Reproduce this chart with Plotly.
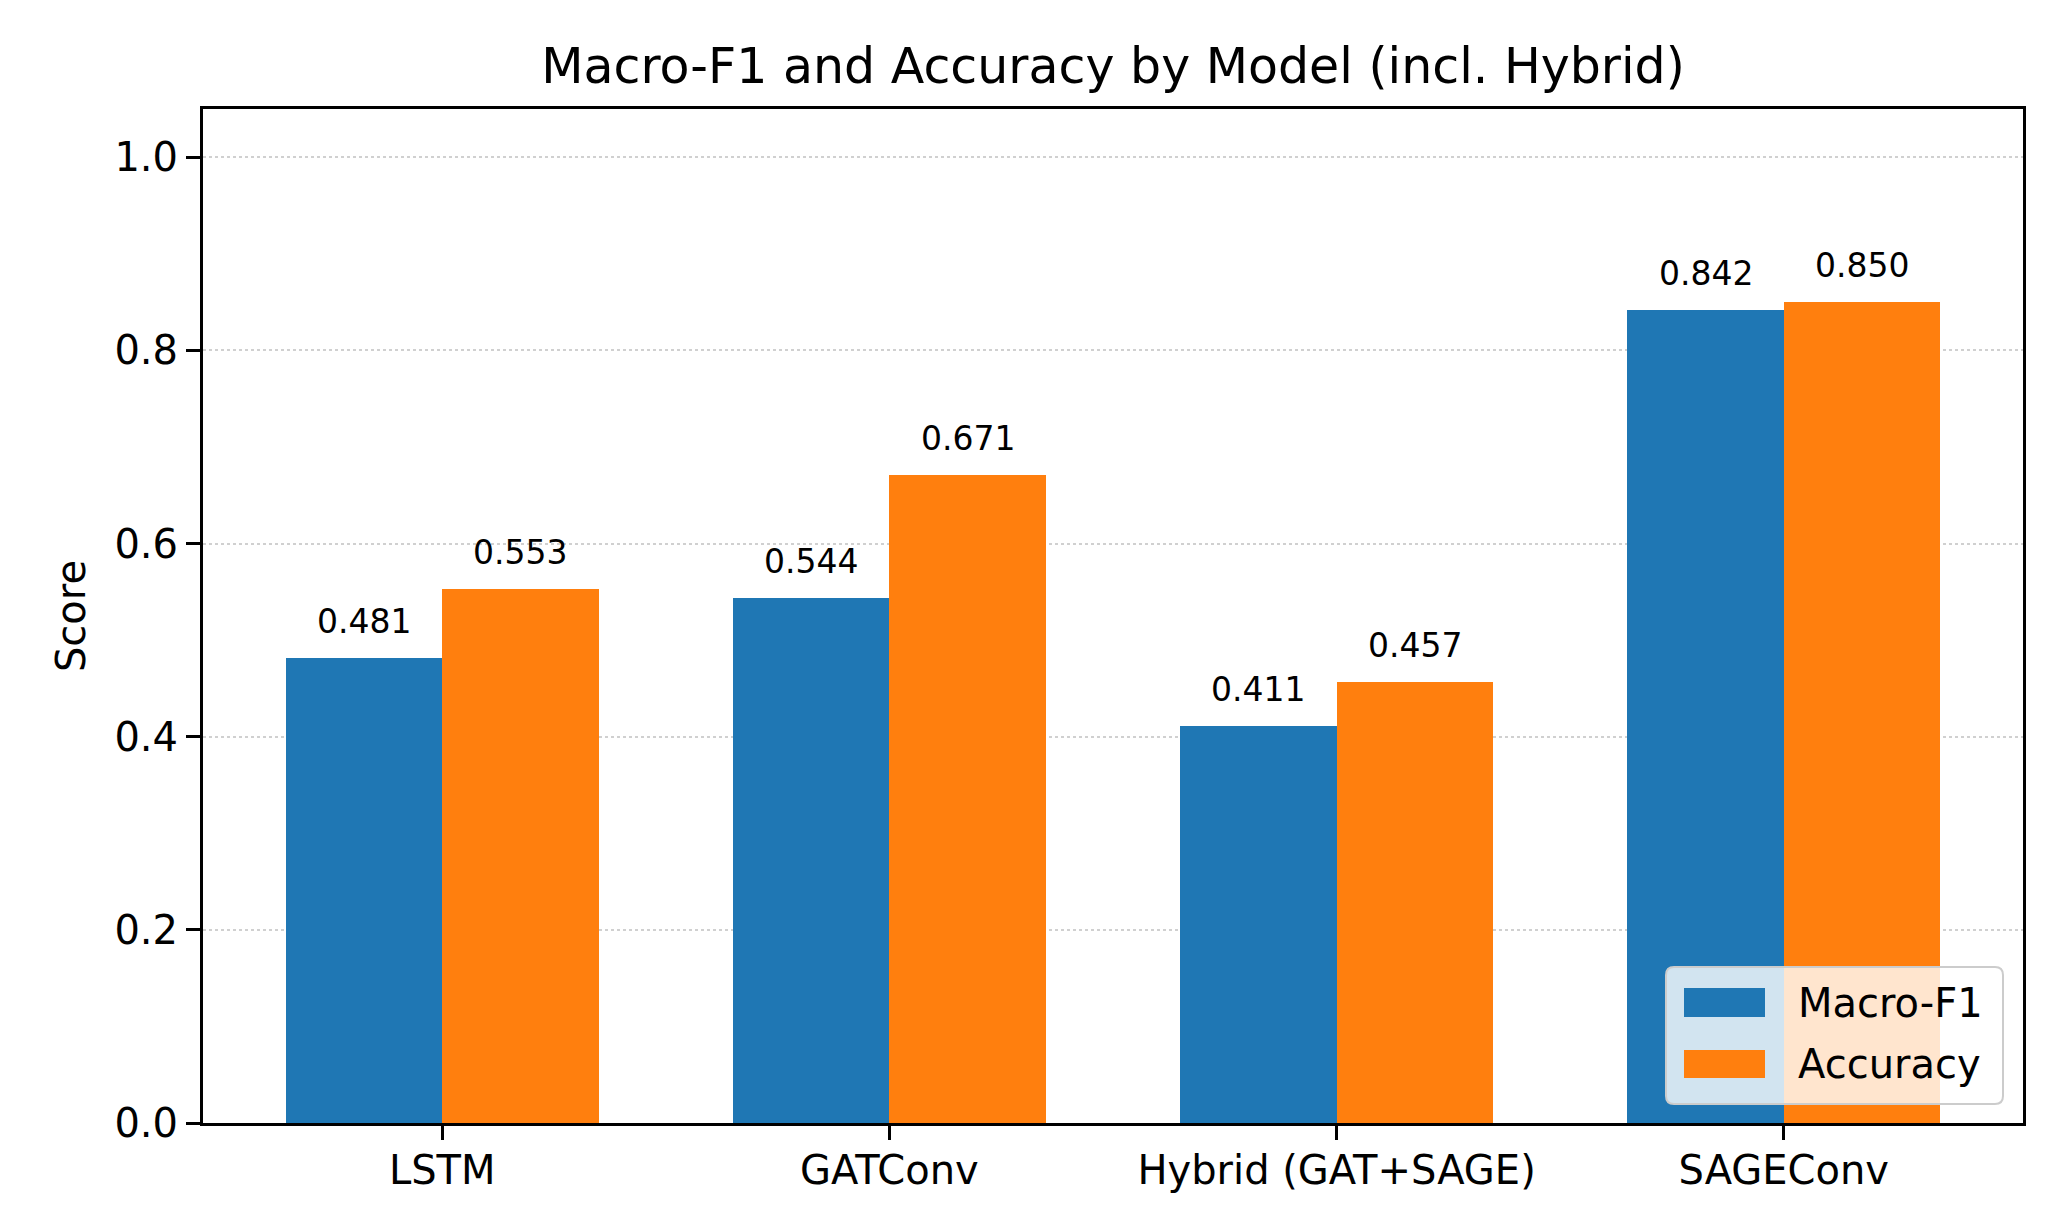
import plotly.graph_objects as go

models = ["LSTM", "GATConv", "Hybrid (GAT+SAGE)", "SAGEConv"]
macro_f1 = [0.481, 0.544, 0.411, 0.842]
accuracy = [0.553, 0.671, 0.457, 0.850]
series_names = ["Macro-F1", "Accuracy"]
y_ticks = [0.0, 0.2, 0.4, 0.6, 0.8, 1.0]
y_tick_labels = ["0.0", "0.2", "0.4", "0.6", "0.8", "1.0"]

W, H = 2060, 1222
ML, MR, MT, MB = 203, 37, 109, 99
PW, PH = W - ML - MR, H - MT - MB
BW = 0.35
FONT = "DejaVu Sans"
BLUE = "#1f77b4"
ORANGE = "#ff7f0e"
colors = [BLUE, ORANGE]

idx = list(range(len(models)))


def px_x(px):
    return (px - ML) / PW


def px_y(py):
    return (H - MB - py) / PH


fig = go.Figure()
fig.add_trace(go.Bar(x=idx, y=macro_f1, name=series_names[0], width=BW, offset=-BW,
                     marker=dict(color=BLUE, line=dict(width=0))))
fig.add_trace(go.Bar(x=idx, y=accuracy, name=series_names[1], width=BW, offset=0,
                     marker=dict(color=ORANGE, line=dict(width=0))))

annotations = []
for vals, off in ((macro_f1, -BW / 2), (accuracy, BW / 2)):
    for i, v in zip(idx, vals):
        annotations.append(dict(x=i + off, y=v, xref="x", yref="y", text=f"{v:.3f}",
                                showarrow=False, yanchor="bottom", xanchor="center",
                                yshift=15, font=dict(family=FONT, size=33, color="black")))

# legend (lower right), drawn as shapes + text
shapes = []
lx0, lx1, ly0, ly1, r = 1666, 2003, 967, 1104, 8
path = (f"M {lx0 + r},{ly0} L {lx1 - r},{ly0} Q {lx1},{ly0} {lx1},{ly0 + r} "
        f"L {lx1},{ly1 - r} Q {lx1},{ly1} {lx1 - r},{ly1} L {lx0 + r},{ly1} "
        f"Q {lx0},{ly1} {lx0},{ly1 - r} L {lx0},{ly0 + r} Q {lx0},{ly0} {lx0 + r},{ly0} Z")


def conv_path(p):
    out = []
    for tok in p.split(" "):
        if "," in tok:
            a, b = tok.split(",")
            out.append(f"{px_x(float(a)):.5f},{px_y(float(b)):.5f}")
        else:
            out.append(tok)
    return " ".join(out)


shapes.append(dict(type="path", xref="paper", yref="paper", path=conv_path(path),
                   fillcolor="rgba(255,255,255,0.8)", line=dict(color="#cccccc", width=2),
                   layer="above"))
patch_rows = [(988, 1017), (1050, 1078)]
for (py0, py1), name, col in zip(patch_rows, series_names, colors):
    shapes.append(dict(type="rect", xref="paper", yref="paper",
                       x0=px_x(1684), x1=px_x(1765), y0=px_y(py1), y1=px_y(py0),
                       fillcolor=col, line=dict(width=0), layer="above"))
    annotations.append(dict(x=px_x(1796), y=px_y((py0 + py1) / 2), xref="paper", yref="paper",
                            text=name, showarrow=False, xanchor="left", yanchor="middle",
                            font=dict(family=FONT, size=40, color="black")))

fig.update_layout(
    width=W, height=H,
    margin=dict(l=ML, r=MR, t=MT, b=MB, pad=0),
    paper_bgcolor="white", plot_bgcolor="white",
    font=dict(family=FONT, size=40, color="black"),
    title=dict(text="Macro-F1 and Accuracy by Model (incl. Hybrid)", x=(ML + (W - MR)) / 2 / W,
               xanchor="center", y=1 - 66 / H, yanchor="middle", yref="container",
               font=dict(family=FONT, size=49, color="black")),
    showlegend=False,
    annotations=annotations,
    shapes=shapes,
    bargap=0,
)
fig.update_xaxes(range=[-0.535, 3.535], tickvals=idx, ticktext=models, showgrid=False,
                 zeroline=False, showline=True, linecolor="black", linewidth=3, mirror=True,
                 ticks="outside", ticklen=14, tickwidth=3, tickcolor="black",
                 ticklabelstandoff=-4,
                 tickfont=dict(family=FONT, size=40, color="black"))
fig.update_yaxes(range=[0, 1.05], tickvals=y_ticks, ticktext=y_tick_labels, showgrid=True,
                 gridcolor="rgba(150,150,150,0.45)", griddash="dot", gridwidth=2,
                 zeroline=False, showline=True, linecolor="black", linewidth=3, mirror=True,
                 ticks="outside", ticklen=14, tickwidth=3, tickcolor="black",
                 layer="above traces",
                 tickfont=dict(family=FONT, size=40, color="black"),
                 title=dict(text="Score", standoff=17, font=dict(family=FONT, size=40, color="black")))

fig.write_html("out.html", post_script="document.body.style.margin='0';",
               config={"displayModeBar": False})
